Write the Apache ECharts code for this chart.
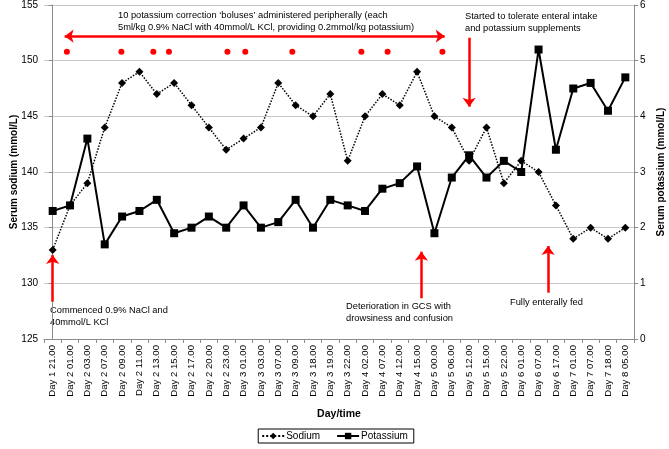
<!DOCTYPE html>
<html><head><meta charset="utf-8">
<script src="https://cdn.jsdelivr.net/npm/echarts@6/dist/echarts.min.js"></script>
<style>html,body{margin:0;padding:0;background:#fff}#c{width:669px;height:449px}</style>
</head><body><div id="c"></div>
<script>
const categories = ['Day 1 21.00','Day 2 01.00','Day 2 03.00','Day 2 07.00','Day 2 09.00','Day 2 11.00','Day 2 13.00','Day 2 15.00','Day 2 17.00','Day 2 20.00','Day 2 23.00','Day 3 01.00','Day 3 03.00','Day 3 07.00','Day 3 09.00','Day 3 18.00','Day 3 19.00','Day 3 22.00','Day 4 02.00','Day 4 07.00','Day 4 12.00','Day 4 15.00','Day 5 00.00','Day 5 06.00','Day 5 12.00','Day 5 15.00','Day 5 22.00','Day 6 01.00','Day 6 07.00','Day 6 17.00','Day 7 01.00','Day 7 07.00','Day 7 18.00','Day 8 05.00'];
const sodium = [133,137,139,144,148,149,147,148,146,144,142,143,144,148,146,145,147,141,145,147,146,149,145,144,141,144,139,141,140,137,134,135,134,135];
const potassium = [2.3,2.4,3.6,1.7,2.2,2.3,2.5,1.9,2.0,2.2,2.0,2.4,2.0,2.1,2.5,2.0,2.5,2.4,2.3,2.7,2.8,3.1,1.9,2.9,3.3,2.9,3.2,3.0,5.2,3.4,4.5,4.6,4.1,4.7];
// bolus markers: fractional category positions, plotted on sodium scale
const bolusPositions = [0.82,3.96,5.8,6.7,10.07,11.1,13.81,17.79,19.3,22.46];
const bolusLevel = 150.8;
const sodiumMin = 125, sodiumMax = 155, sodiumStep = 5;
const potassiumMin = 0, potassiumMax = 6, potassiumStep = 1;
// arrows: [xStart, yStart, xEnd, yEnd, bothEnds] in (category index, sodium) units
const arrows = [
  [0.69,152.2,22.59,152.2,true],
  [24,152.06,24,145.87,false],
  [0,128.35,0,132.54,false],
  [21.25,128.66,21.25,132.84,false],
  [28.55,129.16,28.55,133.35,false]
];

const FONT = 'Liberation Sans, Arial, sans-serif';
const chart = echarts.init(document.getElementById('c'), null, {renderer:'canvas'});

const markLineData = arrows.map(a => [
  {coord:[a[0],a[1]], symbol: a[4] ? 'arrow' : 'none', symbolSize:[10,9]},
  {coord:[a[2],a[3]], symbol:'arrow', symbolSize:[10,9]}
]);

function txt(x, y, s) {
  return {type:'text', left:x, top:y, silent:true,
    style:{text:s, font:'9.3px ' + FONT, fill:'#000', lineHeight:11.5}};
}

chart.setOption({
  animation:false,
  backgroundColor:'#fff',
  grid:{left:44, right:35, top:5, bottom:110, containLabel:false, outerBoundsMode:'none'},
  xAxis:[
    {type:'category', data:categories, boundaryGap:true,
     axisLine:{lineStyle:{color:'#8c8c8c'}},
     axisTick:{show:true, lineStyle:{color:'#8c8c8c'}, length:4},
     axisLabel:{rotate:90, fontSize:9.6, color:'#000', fontFamily:FONT, interval:0, margin:6},
     name:'Day/time', nameLocation:'middle', nameGap:70,
     nameTextStyle:{fontSize:10.5, fontWeight:'bold', color:'#000', fontFamily:FONT}},
    {type:'value', min:-0.5, max:categories.length-0.5, show:false}
  ],
  yAxis:[
    {type:'value', min:sodiumMin, max:sodiumMax, interval:sodiumStep,
     axisLine:{show:true, lineStyle:{color:'#8c8c8c'}},
     axisTick:{show:true, length:4, lineStyle:{color:'#8c8c8c'}},
     axisLabel:{fontSize:10, color:'#000', fontFamily:FONT, margin:6},
     splitLine:{lineStyle:{color:'#c8c8c8'}},
     name:'Serum sodium (mmol/L)', nameLocation:'middle', nameGap:25, nameMoveOverlap:false,
     nameTextStyle:{fontSize:10, fontWeight:'bold', color:'#000', fontFamily:FONT}},
    {type:'value', min:potassiumMin, max:potassiumMax, interval:potassiumStep, position:'right',
     axisLine:{show:true, lineStyle:{color:'#8c8c8c'}},
     axisTick:{show:true, length:4, lineStyle:{color:'#8c8c8c'}},
     axisLabel:{fontSize:10, color:'#000', fontFamily:FONT, margin:6},
     splitLine:{show:false},
     name:'Serum potassium (mmol/L)', nameLocation:'middle', nameGap:22, nameMoveOverlap:false,
     nameTextStyle:{fontSize:10, fontWeight:'bold', color:'#000', fontFamily:FONT}}
  ],
  legend:{data:['Sodium','Potassium'], bottom:6, left:'center',
    itemWidth:22, itemHeight:8, itemGap:16,
    borderColor:'#000', borderWidth:1, borderRadius:0, padding:[2,6,2,3],
    textStyle:{fontSize:10, color:'#000', fontFamily:FONT, padding:[0,0,0,-3]}},
  series:[
    {name:'Sodium', type:'line', data:sodium, xAxisIndex:0, yAxisIndex:0,
     symbol:'diamond', symbolSize:8, showSymbol:true,
     lineStyle:{color:'#000', width:1.5, type:'dotted'},
     itemStyle:{color:'#000'}, z:3},
    {name:'Potassium', type:'line', data:potassium, xAxisIndex:0, yAxisIndex:1,
     symbol:'rect', symbolSize:8,
     lineStyle:{color:'#000', width:2},
     itemStyle:{color:'#000'}, z:4},
    {name:'Boluses', type:'scatter', xAxisIndex:1, yAxisIndex:0,
     data:bolusPositions.map(p => [p, bolusLevel]),
     symbol:'circle', symbolSize:6, itemStyle:{color:'#ff0000', opacity:1}, silent:true,
     markLine:{silent:true, animation:false, label:{show:false},
       lineStyle:{color:'#ff0000', width:2.5, type:'solid', opacity:1},
       emphasis:{disabled:true},
       data:markLineData}}
  ],
  graphic:[
    txt(118,10,'10 potassium correction \u2018boluses\u2019 administered peripherally (each\n5ml/kg 0.9% NaCl with 40mmol/L KCl, providing 0.2mmol/kg potassium)'),
    txt(465,11,'Started to tolerate enteral intake\nand potassium supplements'),
    txt(50,305,'Commenced 0.9% NaCl and\n40mmol/L KCl'),
    txt(346,301,'Deterioration in GCS with\ndrowsiness and confusion'),
    txt(510,297,'Fully enterally fed')
  ]
});
</script></body></html>
